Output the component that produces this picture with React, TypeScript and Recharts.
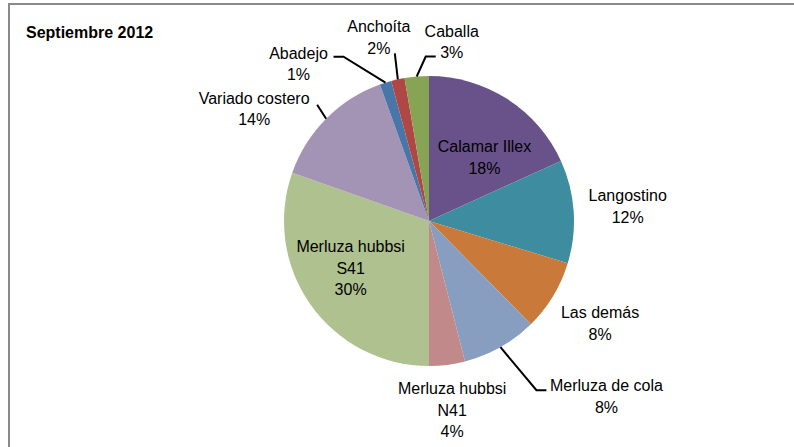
import React from "react";
import { PieChart, Pie, Cell } from "recharts";

// ---- Data ----
const categories = [
  "Calamar Illex",
  "Langostino",
  "Las demás",
  "Merluza de cola",
  "Merluza hubbsi\nN41",
  "Merluza hubbsi\nS41",
  "Variado costero",
  "Abadejo",
  "Anchoíta",
  "Caballa",
];
const shares = [18.2, 11.5, 7.9, 8.4, 4.0, 30.4, 14.1, 1.3, 1.5, 2.7];
const chartTitle = "Septiembre 2012";

// ---- Styles ----
const sliceColors = [
  "#69528A",
  "#3D8C9F",
  "#C97A3A",
  "#889EC0",
  "#C1898A",
  "#AEC18F",
  "#A394B6",
  "#4876A8",
  "#AF4845",
  "#87A455",
];

// label placement relative to the slice's outer-edge midpoint (dx, dy = centre of text block)
// leader: optional polyline points relative to the same edge point
type LabelStyle = { dx: number; dy: number; leader?: number[][] };
const labelStyles: LabelStyle[] = [
  { dx: -23, dy: 58 },
  { dx: 54, dy: -5 },
  { dx: 47, dy: 27 },
  { dx: 106, dy: 49, leader: [[0, 0], [36, 43], [46, 43]] },
  { dx: 5, dy: 45 },
  { dx: 40, dy: -37 },
  { dx: -72, dy: -10, leader: [[0, 0], [-9, -14]] },
  { dx: -87, dy: -19, leader: [[0, 0], [-42, -26], [-52, -26]] },
  { dx: -19, dy: -42, leader: [[0, 0], [-3, -26]] },
  { dx: 35, dy: -35, leader: [[0, 0], [9, -20], [19, -20]] },
];

const data = categories.map((name, i) => ({ name, value: shares[i] }));

const FONT = "'Liberation Sans', Arial, sans-serif";
const LINE_H = 21.5;
const RADIAN = Math.PI / 180;

const renderLabel = (props: any) => {
  const { cx, cy, midAngle, outerRadius, index, value, name } = props;
  const ex = cx + outerRadius * Math.cos(-midAngle * RADIAN);
  const ey = cy + outerRadius * Math.sin(-midAngle * RADIAN);
  const st = labelStyles[index];
  const lines = String(name).split("\n").concat([`${Math.round(value)}%`]);
  const tx = ex + st.dx;
  const tyCenter = ey + st.dy;
  const firstCenter = tyCenter - ((lines.length - 1) * LINE_H) / 2;
  return (
    <g key={`lbl-${index}`}>
      {st.leader && (
        <polyline
          points={st.leader.map((p) => `${ex + p[0]},${ey + p[1]}`).join(" ")}
          fill="none"
          stroke="#000"
          strokeWidth={2}
        />
      )}
      <text
        x={tx}
        y={firstCenter + 5.8}
        textAnchor="middle"
        fontFamily={FONT}
        fontSize={16}
        fill="#000"
      >
        {lines.map((l, i) => (
          <tspan key={i} x={tx} dy={i === 0 ? 0 : LINE_H}>
            {l}
          </tspan>
        ))}
      </text>
    </g>
  );
};

export default function App() {
  return (
    <div
      style={{
        position: "absolute",
        left: 0,
        top: 0,
        width: 794,
        height: 447,
        background: "#fff",
        overflow: "hidden",
      }}
    >
      <div
        style={{
          position: "absolute",
          left: 8,
          top: 3,
          width: 820,
          height: 480,
          border: "2px solid #8a8a8a",
          boxSizing: "border-box",
        }}
      />
      <div
        style={{
          position: "absolute",
          left: 26,
          top: 24,
          fontFamily: FONT,
          fontWeight: "bold",
          fontSize: 16,
          lineHeight: "18px",
          color: "#000",
          whiteSpace: "nowrap",
        }}
      >
        {chartTitle}
      </div>
      <div style={{ position: "absolute", left: 0, top: 0 }}>
        <PieChart width={794} height={447} margin={{ top: 0, right: 0, bottom: 0, left: 0 }}>
          <Pie
            data={data}
            dataKey="value"
            nameKey="name"
            cx={429}
            cy={221}
            outerRadius={145}
            startAngle={90}
            endAngle={-270}
            stroke="none"
            isAnimationActive={false}
            label={renderLabel}
            labelLine={false}
          >
            {data.map((d, i) => (
              <Cell key={d.name} fill={sliceColors[i]} />
            ))}
          </Pie>
        </PieChart>
      </div>
    </div>
  );
}
